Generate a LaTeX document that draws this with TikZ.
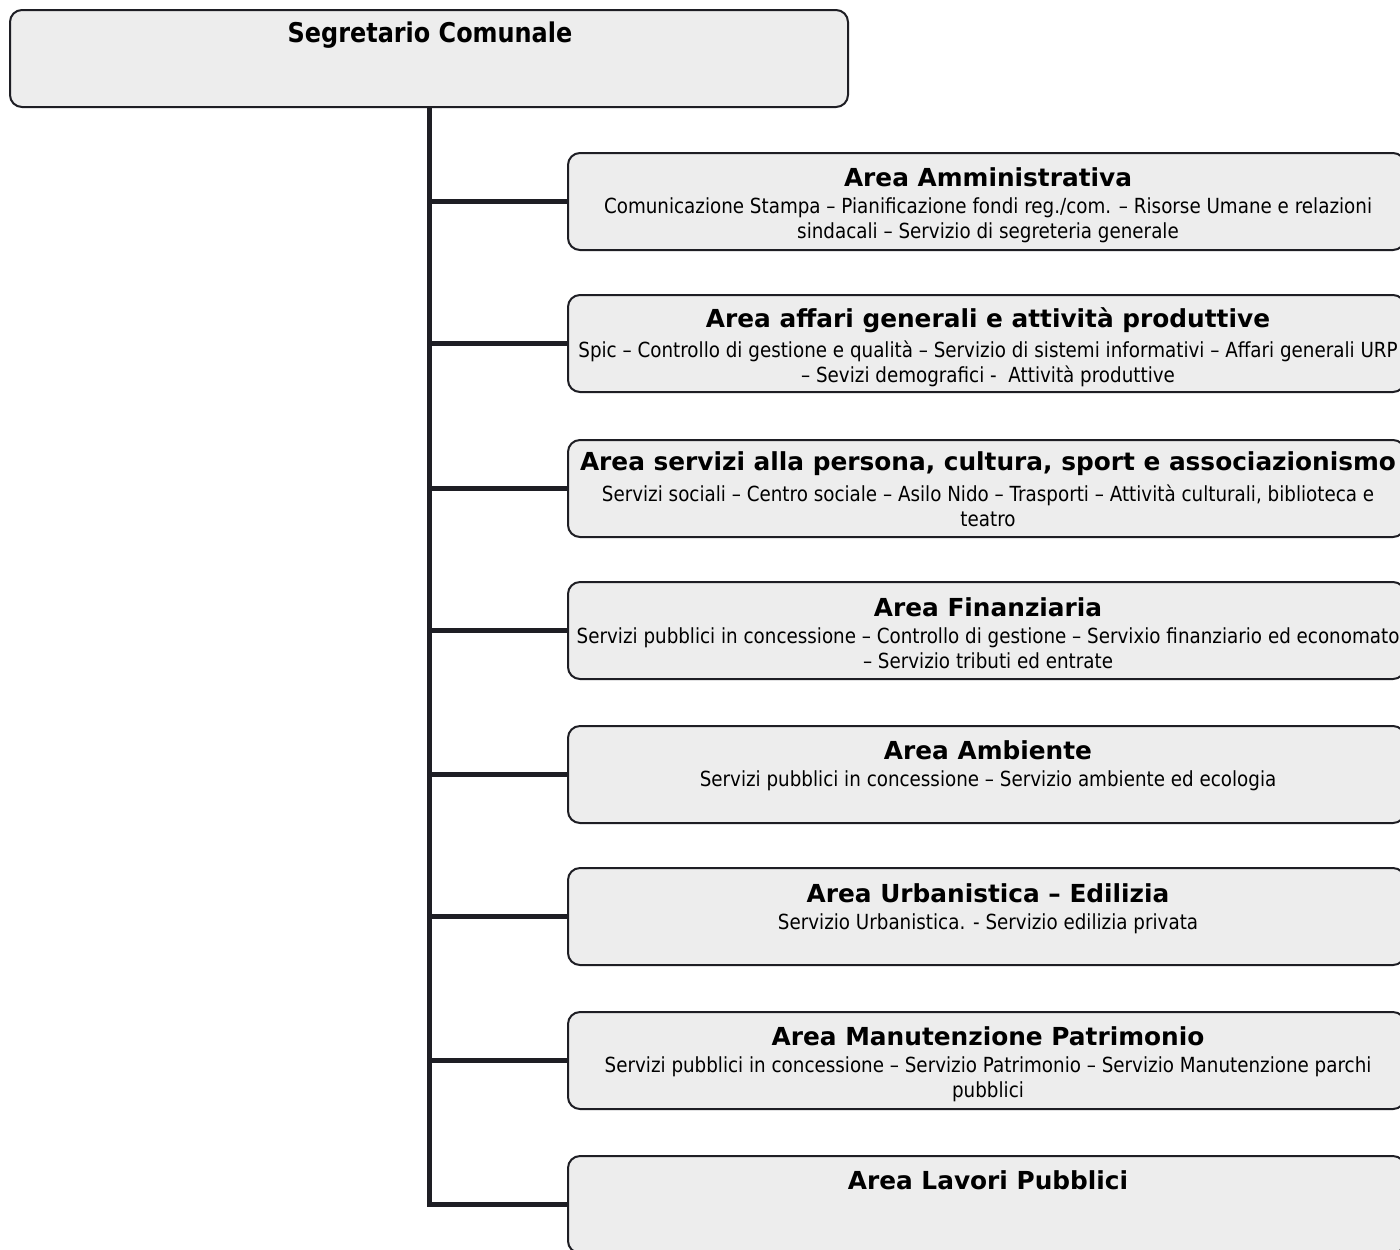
\documentclass[tikz,border=0pt]{standalone}
\usepackage{fontspec}
\setmainfont{DejaVu Sans}
\newfontfamily\narrowfont{DejaVu Sans}[FakeStretch=0.88]
\definecolor{boxfill}{HTML}{EDEDED}
\definecolor{linecol}{HTML}{1E1E24}
\begin{document}
\begin{tikzpicture}[x=0.5pt,y=-0.5pt,
 box/.style={draw=linecol, line width=1pt, rounded corners=6pt, fill=boxfill, anchor=north west, inner sep=0pt, outer sep=0pt, minimum width=418.5pt, minimum height=48.5pt},
 ttl/.style={font=\fontsize{12.4}{14}\selectfont\bfseries, inner sep=0pt, anchor=center},
 bodytxt/.style={font=\narrowfont\fontsize{10.4}{12.5}\selectfont, align=center, inner sep=0pt, anchor=north},
 conn/.style={draw=linecol, line width=2.5pt, line join=miter}]
\useasboundingbox (0,0) rectangle (1400,1249);
\fill[white] (0,0) rectangle (1400,1249);
% top box
\node[box, minimum width=419pt] (top) at (10,10) {};
\node[font=\narrowfont\fontsize{13.6}{16}\selectfont\bfseries, inner sep=0pt] (toptitle) at (430,35) {Segretario Comunale};
% area boxes
\node[box] (b1) at (568,153) {};
\node[box] (b2) at (568,295) {};
\node[box] (b3) at (568,440) {};
\node[box] (b4) at (568,582) {};
\node[box] (b5) at (568,726) {};
\node[box] (b6) at (568,868) {};
\node[box] (b7) at (568,1012) {};
\node[box] (b8) at (568,1156) {};
% titles
\node[ttl] (t1) at (988,177) {Area Amministrativa};
\node[ttl] (t2) at (988,320) {Area affari generali e attività produttive};
\node[ttl] (t3) at (988,464) {Area servizi alla persona, cultura, sport e associazionismo};
\node[ttl] (t4) at (988,607) {Area Finanziaria};
\node[ttl] (t5) at (988,750) {Area Ambiente};
\node[ttl] (t6) at (988,893) {Area Urbanistica – Edilizia};
\node[ttl] (t7) at (988,1036) {Area Manutenzione Patrimonio};
\node[ttl] (t8) at (988,1180) {Area Lavori Pubblici};
% bodies
\node[bodytxt] (d1) at (988,197) {Comunicazione Stampa – Pianificazione fondi reg./com. – Risorse Umane e relazioni\\sindacali – Servizio di segreteria generale};
\node[bodytxt] (d2) at (988,340) {Spic – Controllo di gestione e qualità – Servizio di sistemi informativi – Affari generali URP\\– Sevizi demografici -\ \ Attività produttive};
\node[bodytxt] (d3) at (988,484) {Servizi sociali – Centro sociale – Asilo Nido – Trasporti – Attività culturali, biblioteca e\\teatro};
\node[bodytxt] (d4) at (988,627) {Servizi pubblici in concessione – Controllo di gestione – Servixio finanziario ed economato\\– Servizio tributi ed entrate};
\node[bodytxt] (d5) at (988,770) {Servizi pubblici in concessione – Servizio ambiente ed ecologia};
\node[bodytxt] (d6) at (988,913) {Servizio Urbanistica. - Servizio edilizia privata};
\node[bodytxt] (d7) at (988,1056) {Servizi pubblici in concessione – Servizio Patrimonio – Servizio Manutenzione parchi\\pubblici};
% connectors
\draw[conn] (top.south) -- (top.south |- b8.west) -- (b8.west);
\foreach \b in {b1,b2,b3,b4,b5,b6,b7}
  \draw[conn] (top.south |- \b.west) -- (\b.west);
\end{tikzpicture}
\end{document}
